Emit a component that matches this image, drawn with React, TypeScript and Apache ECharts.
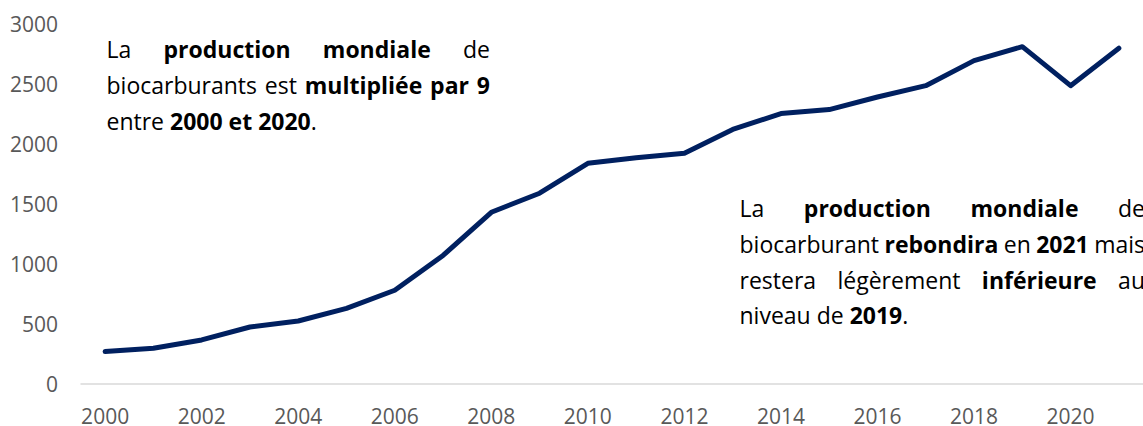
import React, { useEffect, useRef } from "react";
import * as echarts from "echarts";

// ---- Data ----
const years: string[] = [
  "2000", "2001", "2002", "2003", "2004", "2005", "2006", "2007", "2008", "2009", "2010",
  "2011", "2012", "2013", "2014", "2015", "2016", "2017", "2018", "2019", "2020", "2021",
];
const production: number[] = [
  270, 298, 367, 475, 525, 630, 781, 1071, 1431, 1590, 1839,
  1886, 1922, 2121, 2254, 2287, 2392, 2486, 2695, 2811, 2486, 2798,
];
const yMin = 0;
const yMax = 3000;
const yStep = 500;

// Annotation texts (** marks bold), second item = justified
const noteLeft: [string, boolean][] = [
  ["La **production mondiale** de", true],
  ["biocarburants est **multipliée par 9**", true],
  ["entre **2000 et 2020**.", false],
];
const noteRight: [string, boolean][] = [
  ["La **production mondiale** de", true],
  ["biocarburant **rebondira** en **2021** mais", true],
  ["restera légèrement **inférieure** au", true],
  ["niveau de **2019**.", false],
];

const FONT = '"Open Sans", sans-serif';
const ANN_SIZE = 23;
const TICK_SIZE = 21;

type Seg = { t: string; b: boolean };

function parseLine(s: string): Seg[][] {
  let bold = false;
  const words: Seg[][] = [];
  for (const tok of s.split(" ")) {
    const parts = tok.split("**");
    const segs: Seg[] = [];
    parts.forEach((p, i) => {
      if (i > 0) bold = !bold;
      if (p.length) segs.push({ t: p, b: bold });
    });
    words.push(segs);
  }
  return words;
}

function makeMeasure() {
  const ctx = document.createElement("canvas").getContext("2d")!;
  return (t: string, b: boolean) => {
    ctx.font = `${b ? "bold " : ""}${ANN_SIZE}px "Open Sans"`;
    return ctx.measureText(t).width;
  };
}

function buildBlock(
  lines: [string, boolean][],
  left: number,
  right: number,
  baselines: number[],
  measure: (t: string, b: boolean) => number
) {
  const els: any[] = [];
  const central = ANN_SIZE * 0.388;
  lines.forEach(([txt, justify], li) => {
    const words = parseLine(txt);
    const widths = words.map((w) => w.reduce((a, s) => a + measure(s.t, s.b), 0));
    const total = widths.reduce((a, b) => a + b, 0);
    const gap = justify && words.length > 1
      ? (right - left - total) / (words.length - 1)
      : measure(" ", false);
    let x = left;
    words.forEach((w, wi) => {
      let sx = x;
      w.forEach((s) => {
        els.push({
          type: "text",
          x: sx,
          y: baselines[li] - central,
          silent: true,
          style: {
            text: s.t,
            fill: "#000000",
            font: `${s.b ? "bold " : ""}${ANN_SIZE}px ${FONT}`,
            align: "left",
            verticalAlign: "middle",
          },
        });
        sx += measure(s.t, s.b);
      });
      x += widths[wi] + gap;
    });
  });
  return els;
}

export default function App() {
  const ref = useRef<HTMLDivElement>(null);
  useEffect(() => {
    if (!ref.current) return;
    const chart = echarts.init(ref.current, undefined, { renderer: "svg" });
    const measure = makeMeasure();
    const graphics = [
      ...buildBlock(noteLeft, 106.5, 490, [58, 94, 130], measure),
      ...buildBlock(noteRight, 739.5, 1145, [217, 253, 288.5, 324], measure),
    ];
    chart.setOption({
      animation: false,
      backgroundColor: "#ffffff",
      grid: { left: 81, right: -11, top: 24, bottom: 40, containLabel: false },
      xAxis: {
        type: "category",
        data: years,
        boundaryGap: true,
        axisLine: { show: true, lineStyle: { color: "#d9d9d9", width: 1.5 } },
        axisTick: { show: false },
        axisLabel: {
          interval: 1,
          color: "#595959",
          fontFamily: FONT,
          fontSize: TICK_SIZE,
          margin: 21,
        },
        splitLine: { show: false },
      },
      yAxis: {
        type: "value",
        min: yMin,
        max: yMax,
        interval: yStep,
        axisLine: { show: false },
        axisTick: { show: false },
        splitLine: { show: false },
        axisLabel: {
          color: "#595959",
          fontFamily: FONT,
          fontSize: TICK_SIZE,
          margin: 23,
          formatter: (v: number) => String(v),
        },
      },
      series: [
        {
          type: "line",
          data: production,
          showSymbol: false,
          symbol: "none",
          lineStyle: { color: "#002060", width: 5, cap: "round", join: "round" },
          clip: false,
        },
      ],
      graphic: graphics,
    });
    return () => chart.dispose();
  }, []);
  return (
    <div
      ref={ref}
      style={{ position: "absolute", left: 0, top: 0, width: 1143, height: 426, overflow: "hidden" }}
    />
  );
}
